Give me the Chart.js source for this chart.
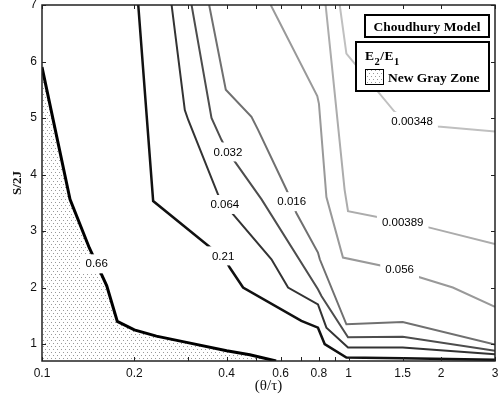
<!DOCTYPE html>
<html>
<head>
<meta charset="utf-8">
<script src="https://cdn.jsdelivr.net/npm/chart.js@4.4.1/dist/chart.umd.min.js"></script>
<style>
  body { margin: 0; background: #fff; }
  canvas { display: block; }
</style>
</head>
<body>
<canvas id="myChart" width="501" height="401"></canvas>
<script>
// axis ticks
const xLabelTicks = [0.1, 0.2, 0.4, 0.6, 0.8, 1, 1.5, 2, 3];
const xMinorTicks = [0.3, 0.5, 0.7, 0.9];
const yLabelTicks = [1, 2, 3, 4, 5, 6, 7];

// contour levels (E2/E1) and their lines, [theta/tau, S/2J]
const levels = ['0.66', '0.21', '0.064', '0.032', '0.016', '0.056', '0.00389', '0.00348'];
const c066 = [[0.1, 5.9], [0.1234, 3.56], [0.1427, 2.70], [0.1508, 2.42], [0.1626, 2.03], [0.176, 1.40], [0.2, 1.25], [0.236, 1.14], [0.296, 1.03], [0.4, 0.88], [0.476, 0.81], [0.58, 0.70]];
const c021 = [[0.206, 7], [0.2304, 3.53], [0.3614, 2.67], [0.3897, 2.56], [0.4098, 2.35], [0.4525, 2.0], [0.701, 1.41], [0.794, 1.29], [0.835, 1.0], [0.983, 0.76], [1.5, 0.75], [3, 0.72]];
const c0064 = [[0.2646, 7], [0.2922, 5.14], [0.2996, 4.97], [0.3753, 3.64], [0.3946, 3.47], [0.4254, 3.26], [0.56, 2.50], [0.6344, 2.0], [0.794, 1.70], [0.846, 1.29], [0.995, 0.94], [1.5, 0.94], [3, 0.82]];
const c0032 = [[0.3074, 7], [0.357, 5.0], [0.385, 4.61], [0.404, 4.40], [0.52, 3.56], [0.794, 1.97], [0.815, 1.85], [0.995, 1.12], [1.5, 1.13], [3, 0.88]];
const c0016 = [[0.3508, 7], [0.3975, 5.50], [0.482, 5.02], [0.5065, 4.79], [0.627, 3.73], [0.652, 3.52], [0.675, 3.32], [0.794, 2.62], [0.805, 2.50], [0.983, 1.35], [1.5, 1.39], [3, 0.99]];
const c0056 = [[0.557, 7], [0.79, 5.39], [0.80, 5.25], [0.846, 3.6], [0.958, 2.53], [1.466, 2.32], [1.662, 2.20], [2.186, 2.0], [3, 1.66]];
const c00389 = [[0.841, 7], [0.878, 6.02], [0.97, 3.73], [0.995, 3.35], [1.5, 3.16], [1.836, 3.06], [3, 2.77]];
const c00348 = [[0.935, 7], [0.983, 6.14], [1.412, 5.11], [1.61, 4.94], [1.954, 4.85], [3, 4.76]];
// which point of each line carries its label
const labelAt = [3, 3, 4, 3, 5, 5, 4, 3];

const contours = [c066, c021, c0064, c0032, c0016, c0056, c00389, c00348];
const lineColors = ['#000', '#111', '#333', '#4d4d4d', '#707070', '#999', '#acacac', '#c0c0c0'];
const lineWidths = [3, 2.5, 2, 2, 2, 2, 2, 2];

const ctx = document.getElementById('myChart').getContext('2d');

// dotted fill for the gray zone
const tile = document.createElement('canvas');
tile.width = 4; tile.height = 6;
const tg = tile.getContext('2d');
tg.fillStyle = '#fff'; tg.fillRect(0, 0, 4, 6);
tg.fillStyle = '#999'; tg.fillRect(1, 1, 1, 1); tg.fillRect(3, 4, 1, 1);
const dots = ctx.createPattern(tile, 'repeat');

const sans = '"Liberation Sans", Arial, sans-serif';
const serif = '"Liberation Serif", "Times New Roman", serif';

const overlay = {
    id: 'overlay',
    afterDatasetsDraw(chart) {
        const c = chart.ctx;
        const ca = chart.chartArea;
        const xs = chart.scales.x, ys = chart.scales.y;
        c.save();

        // inline contour labels
        c.font = '11.5px ' + sans;
        c.textAlign = 'center';
        c.textBaseline = 'middle';
        chart.data.datasets.forEach((ds, i) => {
            const pt = chart.getDatasetMeta(i).data[labelAt[i]];
            const w = c.measureText(ds.label).width;
            c.fillStyle = '#fff';
            c.fillRect(pt.x - w / 2 - 5, pt.y - 9.5, w + 10, 19);
            c.fillStyle = '#000';
            c.fillText(ds.label, pt.x, pt.y + 0.5);
        });

        // frame and inward ticks
        c.strokeStyle = '#222';
        c.lineWidth = 1.5;
        c.strokeRect(ca.left, ca.top, ca.right - ca.left, ca.bottom - ca.top);
        c.lineWidth = 1;
        xLabelTicks.concat(xMinorTicks).forEach(v => {
            const px = Math.round(xs.getPixelForValue(v)) + 0.5;
            c.beginPath();
            c.moveTo(px, ca.bottom); c.lineTo(px, ca.bottom - 4);
            c.moveTo(px, ca.top); c.lineTo(px, ca.top + 4);
            c.stroke();
        });
        yLabelTicks.forEach(v => {
            const py = Math.round(ys.getPixelForValue(v)) + 0.5;
            c.beginPath();
            c.moveTo(ca.left, py); c.lineTo(ca.left + 4, py);
            c.moveTo(ca.right, py); c.lineTo(ca.right - 4, py);
            c.stroke();
        });

        // legend boxes
        c.lineWidth = 2;
        c.strokeStyle = '#000';
        const b1x = ca.right - 130, b1y = ca.top + 10;
        c.fillStyle = '#fff';
        c.fillRect(b1x, b1y, 124, 22);
        c.strokeRect(b1x, b1y, 124, 22);
        c.fillStyle = '#000';
        c.font = 'bold 13.5px ' + serif;
        c.textAlign = 'center';
        c.textBaseline = 'alphabetic';
        c.fillText('Choudhury Model', b1x + 62, b1y + 16);

        const b2x = ca.right - 139, b2y = ca.top + 37;
        c.fillStyle = '#fff';
        c.fillRect(b2x, b2y, 133, 49);
        c.strokeRect(b2x, b2y, 133, 49);
        c.fillStyle = '#000';
        c.textAlign = 'left';
        let tx = b2x + 9;
        const base = b2y + 18;
        [['E', 13.5, 0], ['2', 10.5, 5], ['/', 13.5, 0], ['E', 13.5, 0], ['1', 10.5, 5]].forEach(([t, s, d]) => {
            c.font = 'bold ' + s + 'px ' + serif;
            c.fillText(t, tx, base + d);
            tx += c.measureText(t).width + 0.5;
        });
        c.fillStyle = dots;
        c.fillRect(b2x + 9, b2y + 27, 18, 15);
        c.lineWidth = 1;
        c.strokeRect(b2x + 9.5, b2y + 27.5, 18, 15);
        c.fillStyle = '#000';
        c.font = 'bold 13.5px ' + serif;
        c.fillText('New Gray Zone', b2x + 32, b2y + 40);
        c.restore();
    }
};

const myChart = new Chart(ctx, {
    type: 'scatter',
    data: {
        datasets: contours.map((pts, i) => ({
            label: levels[i],
            data: pts.map(p => ({ x: p[0], y: p[1] })),
            showLine: true,
            pointRadius: 0,
            borderColor: lineColors[i],
            borderWidth: lineWidths[i],
            tension: 0,
            fill: i === 0 ? 'start' : false,
            backgroundColor: i === 0 ? dots : 'transparent'
        }))
    },
    options: {
        responsive: false,
        animation: false,
        layout: { padding: { top: 5, right: 6, left: 0, bottom: 0 } },
        plugins: { legend: { display: false }, tooltip: { enabled: false } },
        scales: {
            x: {
                type: 'logarithmic',
                min: 0.1,
                max: 3,
                afterBuildTicks: s => { s.ticks = xLabelTicks.map(v => ({ value: v })); },
                afterFit: s => { s.height = 40; s.paddingLeft = 0; s.paddingRight = 0; },
                ticks: {
                    autoSkip: false, maxRotation: 0, padding: 5, color: '#111',
                    font: { family: sans, size: 12 },
                    callback: v => String(v)
                },
                grid: { display: false, drawTicks: false },
                border: { display: false },
                title: {
                    display: true, text: '(θ/τ)', color: '#111',
                    font: { family: serif, size: 15 },
                    padding: { top: 0, bottom: 6 }
                }
            },
            y: {
                min: 0.7,
                max: 7,
                afterBuildTicks: s => { s.ticks = yLabelTicks.map(v => ({ value: v })); },
                afterFit: s => { s.width = 42; s.paddingTop = 0; s.paddingBottom = 0; },
                ticks: {
                    padding: 5, color: '#111',
                    font: { family: sans, size: 12 }
                },
                grid: { display: false, drawTicks: false },
                border: { display: false },
                title: {
                    display: true, text: 'S/2J', color: '#111',
                    font: { family: serif, size: 13, weight: 'bold' },
                    padding: { top: 10, bottom: 0 }
                }
            }
        }
    },
    plugins: [overlay]
});
</script>
</body>
</html>
